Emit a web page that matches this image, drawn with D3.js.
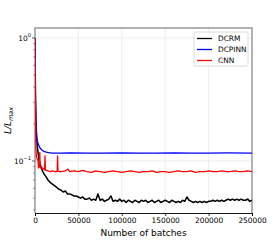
<!DOCTYPE html>
<html><head><meta charset="utf-8">
<script src="https://cdn.jsdelivr.net/npm/d3@7"></script>
<style>body{margin:0;background:#fff}svg{display:block}text{font-family:"DejaVu Sans",sans-serif}</style>
</head><body><svg id="c" width="280" height="240"></svg>
<script>
const seriesNames = ["DCRM", "DCPINN", "CNN"];
const seriesColors = ["#000000", "#0000ff", "#ff0000"];
const xTicks = [0, 50000, 100000, 150000, 200000, 250000];
const yMajorTicks = [1, 0.1];
const yMajorLabels = [["10", "0"], ["10", "\u22121"]];

const dcrmBatches = [0,300,700,1200,2000,3000,4000,5000,6000,7500,9000,10500,12500,15000,17500,20000,22500,
 25000,27500,30000,32500,35000,37500,40000,42500,45000,47500,50000,52500,55000,57500,60000,62500,65000,67500,70000,72500,75000,77500,80000,82500,85000,87500,90000,92500,95000,97500,
 100000,102500,105000,107500,110000,112500,115000,117500,120000,122500,125000,127500,130000,132500,135000,137500,140000,142500,145000,147500,
 150000,152500,155000,157500,160000,162500,165000,167500,170000,172500,175000,177500,180000,182500,185000,187500,190000,192500,195000,197500,
 200000,202500,205000,207500,210000,212500,215000,217500,220000,222500,225000,227500,230000,232500,235000,237500,240000,242500,245000,247500,250000];
const dcrmLoss = [1.0,0.5,0.3,0.2,0.15,0.125,0.11,0.1,0.094,0.087,0.082,0.078,0.075,0.07,0.067,0.065,0.063,
 0.061,0.059,0.058,0.056,0.057,0.054,0.054,0.053,0.052,0.052,0.051,0.050,0.051,0.049,0.049,0.050,0.048,0.049,0.048,0.054,0.048,0.049,0.047,0.048,0.049,0.052,0.047,0.048,0.047,0.049,
 0.047,0.048,0.046,0.048,0.047,0.046,0.048,0.047,0.046,0.048,0.047,0.048,0.046,0.047,0.048,0.046,0.047,0.048,0.046,0.047,
 0.048,0.047,0.046,0.048,0.047,0.046,0.047,0.046,0.048,0.047,0.051,0.048,0.047,0.046,0.047,0.046,0.047,0.046,0.047,0.046,
 0.047,0.047,0.048,0.047,0.048,0.047,0.048,0.047,0.048,0.049,0.048,0.049,0.048,0.049,0.048,0.049,0.048,0.048,0.049,0.047,0.048];

const dcpinnBatches = [0,300,800,1300,2000,3000,4000,5000,6000,8000,10000,13000,16000,20000,30000,40000,60000,80000,100000,120000,140000,160000,180000,200000,220000,250000];
const dcpinnLoss = [1.0,0.45,0.22,0.18,0.155,0.143,0.136,0.131,0.127,0.123,0.12,0.118,0.117,0.116,0.116,0.1165,0.116,0.116,0.1165,0.116,0.116,0.1165,0.116,0.116,0.1165,0.116];

const cnnBatches = [0,300,600,1000,1500,2500,3500,4000,5000,5500,6000,7000,8500,10000,11000,11500,12000,13500,15000,17500,20000,22500,25500,26000,26500,28000,
 30000,35000,38000,40000,45000,50000,55000,60000,65000,70000,75000,80000,85000,90000,95000,100000,105000,110000,115000,120000,125000,130000,135000,140000,145000,
 150000,155000,160000,165000,170000,175000,180000,185000,190000,195000,200000,205000,210000,215000,220000,225000,230000,235000,240000,245000,250000];
const cnnLoss = [1.0,0.35,0.18,0.13,0.11,0.104,0.1,0.088,0.09,0.117,0.089,0.087,0.088,0.086,0.085,0.11,0.084,0.084,0.083,0.082,0.083,0.082,0.082,0.11,0.083,0.082,
 0.082,0.083,0.086,0.082,0.083,0.082,0.084,0.082,0.081,0.083,0.082,0.081,0.082,0.083,0.082,0.081,0.082,0.083,0.082,0.081,0.082,0.082,0.083,0.081,0.082,
 0.082,0.081,0.082,0.083,0.082,0.082,0.083,0.081,0.082,0.082,0.083,0.082,0.082,0.083,0.082,0.082,0.083,0.082,0.082,0.083,0.082];

const W = 280, H = 240;
const m = {l:35, t:28, r:28, b:27};
const svg = d3.select("#c");
const x = d3.scaleLinear().domain([0, 250000]).range([m.l, W - m.r]);
const y = d3.scaleLog().domain([0.0378, 1.205]).range([H - m.b, m.t]);

// grid
const g = svg.append("g");
g.selectAll("line.gx").data(xTicks.slice(1, -1)).join("line")
  .attr("x1", d => x(d)).attr("x2", d => x(d)).attr("y1", m.t).attr("y2", H - m.b)
  .attr("stroke", "#e8e8e8").attr("stroke-width", 0.8);
g.selectAll("line.gy").data(yMajorTicks).join("line")
  .attr("x1", m.l).attr("x2", W - m.r).attr("y1", d => y(d)).attr("y2", d => y(d))
  .attr("stroke", "#e8e8e8").attr("stroke-width", 0.8);

// frame top/right/left
svg.append("path").attr("d", `M${m.l},${H-m.b}V${m.t}H${W-m.r}V${H-m.b}`)
  .attr("fill", "none").attr("stroke", "#999").attr("stroke-width", 1.5);

// lines
const sets = [[dcrmBatches, dcrmLoss], [dcpinnBatches, dcpinnLoss], [cnnBatches, cnnLoss]];
const line = d3.line().x(d => x(d[0])).y(d => y(d[1]));
const clip = svg.append("clipPath").attr("id", "cp").append("rect")
  .attr("x", m.l).attr("y", m.t).attr("width", W - m.l - m.r).attr("height", H - m.t - m.b);
[0, 1, 2].forEach(i => {
  const pts = sets[i][0].map((b, j) => [b, sets[i][1][j]]);
  svg.append("path").datum(pts).attr("d", line).attr("fill", "none")
    .attr("stroke", seriesColors[i]).attr("stroke-width", i === 0 ? 1.5 : 1.3)
    .attr("stroke-linejoin", "round").attr("clip-path", "url(#cp)");
});

// x axis
const xa = svg.append("g").attr("transform", `translate(0,${H - m.b})`)
  .call(d3.axisBottom(x).tickValues(xTicks).tickFormat(d3.format("d")).tickSize(3).tickPadding(1.5));
xa.select(".domain").attr("stroke", "#000").attr("stroke-width", 0.9);
xa.selectAll(".tick line").attr("stroke", "#000").attr("stroke-width", 0.8);
xa.selectAll(".tick text").attr("font-size", 7.4).attr("fill", "#000").attr("font-family", "DejaVu Sans");

// y ticks
const minor = [];
[0.01, 0.1].forEach(dec => { for (let k = 2; k <= 9; k++) { const v = dec * k; if (v >= 0.0378 && v <= 1.2) minor.push(v); } });
svg.append("g").selectAll("line").data(minor).join("line")
  .attr("x1", m.l - 2).attr("x2", m.l).attr("y1", d => y(d)).attr("y2", d => y(d))
  .attr("stroke", "#555").attr("stroke-width", 0.6);
svg.append("g").selectAll("line").data(yMajorTicks).join("line")
  .attr("x1", m.l - 3).attr("x2", m.l).attr("y1", d => y(d)).attr("y2", d => y(d))
  .attr("stroke", "#333").attr("stroke-width", 0.8);
const yl = svg.append("g").selectAll("text").data(yMajorTicks).join("text")
  .attr("x", m.l - 4).attr("y", d => y(d) + 2.6).attr("text-anchor", "end")
  .attr("font-size", 7.4).attr("fill", "#000");
yl.append("tspan").text((d, i) => yMajorLabels[i][0]);
yl.append("tspan").attr("dy", -3.2).attr("font-size", 5.2).text((d, i) => yMajorLabels[i][1]);

// axis labels
svg.append("text").attr("x", (m.l + W - m.r) / 2).attr("y", 236).attr("text-anchor", "middle")
  .attr("font-size", 9).text("Number of batches");
const ylab = svg.append("text").attr("transform", `translate(11,${(m.t + H - m.b) / 2}) rotate(-90)`)
  .attr("text-anchor", "middle").attr("font-size", 9).attr("font-style", "italic");
ylab.append("tspan").text("L/L");
ylab.append("tspan").attr("dy", 2).attr("font-size", 6.5).text("max");

// legend
const lg = svg.append("g");
lg.append("rect").attr("x", 194).attr("y", 32).attr("width", 54).attr("height", 34).attr("rx", 1.5)
  .attr("fill", "#fff").attr("stroke", "#d0d0d0").attr("stroke-width", 0.8);
seriesNames.forEach((n, i) => {
  const yy = 38.5 + i * 11;
  lg.append("line").attr("x1", 197).attr("x2", 212).attr("y1", yy).attr("y2", yy)
    .attr("stroke", seriesColors[i]).attr("stroke-width", 1.3);
  lg.append("text").attr("x", 218).attr("y", yy + 2.6).attr("font-size", 7.4).text(n);
});
</script></body></html>
